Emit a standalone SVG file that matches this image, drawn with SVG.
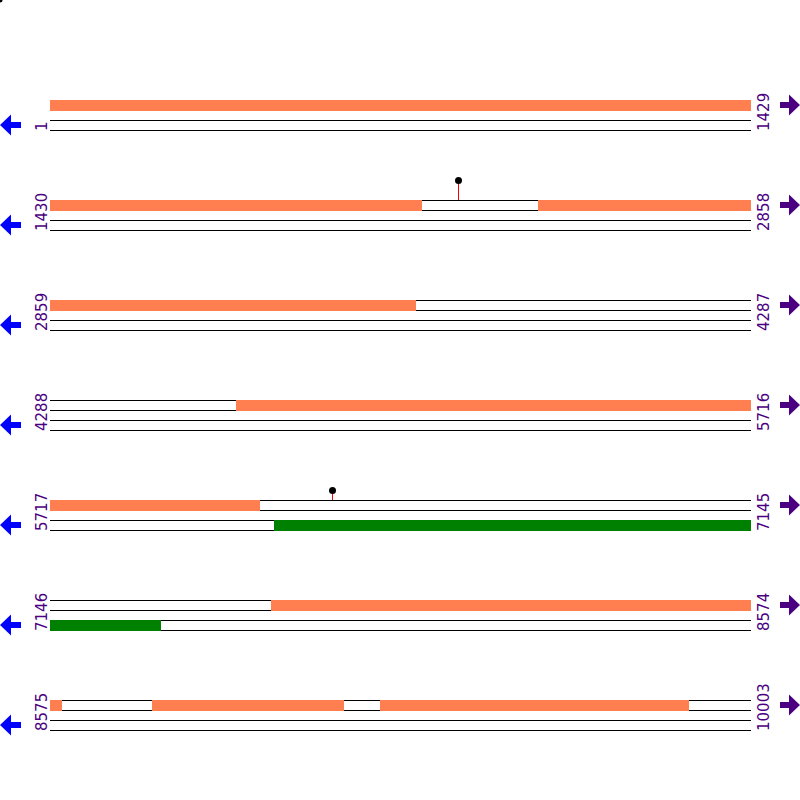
<svg xmlns="http://www.w3.org/2000/svg" width="800" height="800" viewBox="0 0 800 800">
<style>
.bg{fill:#ffffff}
.ln{stroke:#000000;stroke-width:1;fill:none}
.cds{fill:#ff7f50}
.grn{fill:#008000}
.lbl{font-family:"DejaVu Sans",sans-serif;font-size:15px;fill:#4b0082}
.la{fill:#0000ff}
.ra{fill:#4b0082}
.pin{stroke:#ff0000;stroke-width:1}
.dot{fill:#000000}
</style>
<defs>
<polygon id="larrow" class="la" points="0,0 11,-10.5 11,-3 21,-3 21,3 11,3 11,10.5"/>
<polygon id="rarrow" class="ra" points="20,0 9,-10.5 9,-3 0,-3 0,3 9,3 9,10.5"/>
</defs>
<rect class="bg" x="0" y="0" width="800" height="800"/>
<circle class="dot" cx="0" cy="0" r="2.5"/>
<g id="connectors">
<g class="ln">
<path d="M50 100.5H751M50 110.5H751M50 120.5H751M50 130.5H751"/>
<path d="M50 200.5H751M50 210.5H751M50 220.5H751M50 230.5H751"/>
<path d="M50 300.5H751M50 310.5H751M50 320.5H751M50 330.5H751"/>
<path d="M50 400.5H751M50 410.5H751M50 420.5H751M50 430.5H751"/>
<path d="M50 500.5H751M50 510.5H751M50 520.5H751M50 530.5H751"/>
<path d="M50 600.5H751M50 610.5H751M50 620.5H751M50 630.5H751"/>
<path d="M50 700.5H751M50 710.5H751M50 720.5H751M50 730.5H751"/>
</g>
</g>
<g id="row1">
<rect class="cds" x="50" y="100" width="701" height="11"/>
<text class="lbl" transform="translate(47,131) rotate(-90)">1</text>
<text class="lbl" transform="translate(769,131) rotate(-90)">1429</text>
<use href="#larrow" x="0" y="125"/>
<use href="#rarrow" x="780" y="105"/>
</g>
<g id="row2">
<rect class="cds" x="50" y="200" width="372" height="11"/>
<rect class="cds" x="538" y="200" width="213" height="11"/>
<line class="pin" x1="458.5" y1="182" x2="458.5" y2="200"/>
<circle class="dot" cx="458.5" cy="180.5" r="3.5"/>
<text class="lbl" transform="translate(47,231) rotate(-90)">1430</text>
<text class="lbl" transform="translate(769,231) rotate(-90)">2858</text>
<use href="#larrow" x="0" y="225"/>
<use href="#rarrow" x="780" y="205"/>
</g>
<g id="row3">
<rect class="cds" x="50" y="300" width="366" height="11"/>
<text class="lbl" transform="translate(47,331) rotate(-90)">2859</text>
<text class="lbl" transform="translate(769,331) rotate(-90)">4287</text>
<use href="#larrow" x="0" y="325"/>
<use href="#rarrow" x="780" y="305"/>
</g>
<g id="row4">
<rect class="cds" x="236" y="400" width="515" height="11"/>
<text class="lbl" transform="translate(47,431) rotate(-90)">4288</text>
<text class="lbl" transform="translate(769,431) rotate(-90)">5716</text>
<use href="#larrow" x="0" y="425"/>
<use href="#rarrow" x="780" y="405"/>
</g>
<g id="row5">
<rect class="cds" x="50" y="500" width="210" height="11"/>
<rect class="grn" x="274" y="520" width="477" height="11"/>
<line class="pin" x1="332.5" y1="492" x2="332.5" y2="500"/>
<circle class="dot" cx="332.5" cy="490.5" r="3.5"/>
<text class="lbl" transform="translate(47,531) rotate(-90)">5717</text>
<text class="lbl" transform="translate(769,531) rotate(-90)">7145</text>
<use href="#larrow" x="0" y="525"/>
<use href="#rarrow" x="780" y="505"/>
</g>
<g id="row6">
<rect class="cds" x="271" y="600" width="480" height="11"/>
<rect class="grn" x="50" y="620" width="111" height="11"/>
<text class="lbl" transform="translate(47,631) rotate(-90)">7146</text>
<text class="lbl" transform="translate(769,631) rotate(-90)">8574</text>
<use href="#larrow" x="0" y="625"/>
<use href="#rarrow" x="780" y="605"/>
</g>
<g id="row7">
<rect class="cds" x="50" y="700" width="12" height="11"/>
<rect class="cds" x="152" y="700" width="192" height="11"/>
<rect class="cds" x="380" y="700" width="309" height="11"/>
<text class="lbl" transform="translate(47,731) rotate(-90)">8575</text>
<text class="lbl" transform="translate(769,731) rotate(-90)">10003</text>
<use href="#larrow" x="0" y="725"/>
<use href="#rarrow" x="780" y="705"/>
</g>
</svg>
